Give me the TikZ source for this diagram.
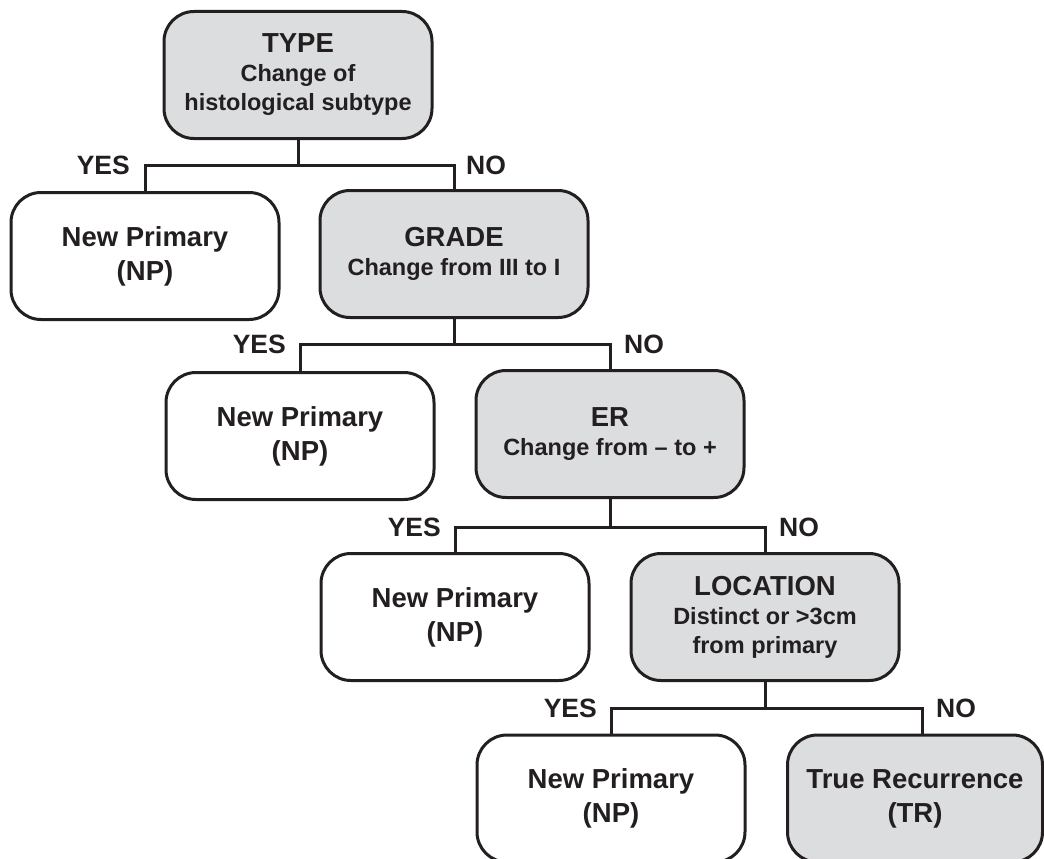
\documentclass[tikz,border=0pt]{standalone}
\usepackage{fontspec}
\setmainfont{Liberation Sans}
\usetikzlibrary{calc}
\definecolor{ink}{HTML}{231F20}
\definecolor{boxgray}{HTML}{DCDDDF}
\newcommand{\ttl}{\fontsize{27.5}{29}\selectfont\bfseries}
\newcommand{\sub}{\fontsize{23.5}{29}\selectfont\bfseries}
\newcommand{\npf}{\fontsize{27.5}{34}\selectfont\bfseries}
\newcommand{\lbf}{\fontsize{26.5}{30}\selectfont\bfseries}
\tikzset{
  box/.style={draw=ink, line width=3pt, rounded corners=30pt, minimum width=268pt,
    minimum height=127pt, align=center, text=ink, inner sep=0pt},
  gbox/.style={box, fill=boxgray, font=\sub},
  wbox/.style={box, fill=white, font=\npf},
  lbl/.style={text=ink, font=\lbf, inner sep=0pt},
  conn/.style={draw=ink, line width=3pt}
}
\begin{document}
\begin{tikzpicture}[x=1pt,y=-1pt]
\useasboundingbox (0,0) rectangle (1044,859);
\clip (0,0) rectangle (1044,859);
\fill[white] (0,0) rectangle (1044,859);
% level 1
\node[gbox] (type) at (298,75) {{\ttl TYPE}\\Change of\\histological subtype};
% level 2
\node[wbox] (np1) at (145,256) {New Primary\\(NP)};
\node[gbox] (grade) at (454,254) {{\ttl GRADE}\\Change from III to I};
% level 3
\node[wbox] (np2) at (300,436) {New Primary\\(NP)};
\node[gbox] (er) at (610,434) {{\ttl ER}\\Change from -- to +};
% level 4
\node[wbox] (np3) at (455,617) {New Primary\\(NP)};
\node[gbox] (loc) at (765,617) {{\ttl LOCATION}\\Distinct or >3cm\\from primary};
% level 5
\node[wbox] (np4) at (611,798.5) {New Primary\\(NP)};
\node[gbox, font=\npf, minimum width=255pt] (tr) at (915,798.5) {True Recurrence\\(TR)};
% junction rows
\coordinate (h1) at (0,165);
\coordinate (h2) at (0,344);
\coordinate (h3) at (0,527);
\coordinate (h4) at (0,708);
\coordinate (trtop) at ([xshift=7pt]tr.north);
% connectors
\draw[conn] (type.south) -- (type.south |- h1);
\draw[conn] (np1.north) -- (np1.north |- h1) -| (grade.north);
\draw[conn] (grade.south) -- (grade.south |- h2);
\draw[conn] (np2.north) -- (np2.north |- h2) -| (er.north);
\draw[conn] (er.south) -- (er.south |- h3);
\draw[conn] (np3.north) -- (np3.north |- h3) -| (loc.north);
\draw[conn] (loc.south) -- (loc.south |- h4);
\draw[conn] (np4.north) -- (np4.north |- h4) -| (trtop);
% labels
\node[lbl, anchor=east] (y1) at ([xshift=-15pt]np1.north |- h1) {YES};
\node[lbl, anchor=west] (n1) at ([xshift=12pt]grade.north |- h1) {NO};
\node[lbl, anchor=east] (y2) at ([xshift=-14pt]np2.north |- h2) {YES};
\node[lbl, anchor=west] (n2) at ([xshift=14pt]er.north |- h2) {NO};
\node[lbl, anchor=east] (y3) at ([xshift=-14pt]np3.north |- h3) {YES};
\node[lbl, anchor=west] (n3) at ([xshift=14pt]loc.north |- h3) {NO};
\node[lbl, anchor=east] (y4) at ([xshift=-14pt]np4.north |- h4) {YES};
\node[lbl, anchor=west] (n4) at ([xshift=14pt]trtop |- h4) {NO};
\end{tikzpicture}
\end{document}
